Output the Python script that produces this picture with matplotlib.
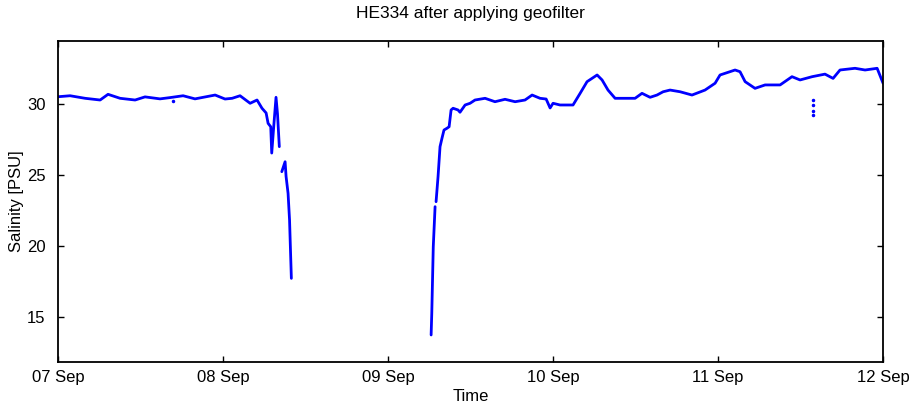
import matplotlib
matplotlib.use("Agg")
import matplotlib.pyplot as plt
import matplotlib.dates as mdates
import numpy as np
import pandas as pd

# Salinity record, time in days since 07 Sep
start_date = "2010-09-07"

# before the gap
days_a = [0.000, 0.073, 0.164, 0.255, 0.303, 0.376, 0.467, 0.527, 0.618, 0.679,
          0.758, 0.830, 0.952, 1.012, 1.055, 1.103, 1.164, 1.206, 1.236, 1.261,
          1.273, 1.289, 1.295, 1.309, 1.321, 1.330, 1.341]
sal_a = [30.51, 30.58, 30.40, 30.28, 30.68, 30.40, 30.28, 30.50, 30.36, 30.45,
         30.58, 30.36, 30.63, 30.35, 30.40, 30.58, 30.05, 30.28, 29.70, 29.37,
         28.64, 28.40, 26.55, 28.70, 30.47, 29.30, 27.00]

days_b = [1.356, 1.376, 1.382, 1.394, 1.403, 1.408, 1.414]
sal_b = [25.24, 25.94, 24.90, 23.72, 21.84, 19.96, 17.74]

# after the gap
days_c = [2.261, 2.265, 2.274, 2.285]
sal_c = [13.76, 15.30, 19.96, 22.78]

days_d = [2.291, 2.303, 2.315, 2.327, 2.339, 2.358, 2.370, 2.382, 2.394, 2.424,
          2.436, 2.467, 2.497, 2.527, 2.588, 2.648, 2.709, 2.770, 2.830, 2.873,
          2.921, 2.958, 2.982, 3.000, 3.042, 3.121, 3.164, 3.206, 3.267, 3.297,
          3.333, 3.376, 3.497, 3.539, 3.588, 3.630, 3.667, 3.709, 3.770, 3.842,
          3.921, 3.982, 4.012, 4.103, 4.133, 4.164, 4.224, 4.285, 4.376, 4.448,
          4.497, 4.570, 4.648, 4.697, 4.739, 4.830, 4.891, 4.964, 5.000]
sal_d = [23.13, 24.90, 27.00, 27.60, 28.17, 28.30, 28.40, 29.58, 29.70, 29.58,
         29.42, 29.93, 30.05, 30.28, 30.40, 30.16, 30.33, 30.16, 30.28, 30.63,
         30.40, 30.35, 29.72, 30.05, 29.93, 29.93, 30.75, 31.57, 32.04, 31.69,
         30.98, 30.40, 30.40, 30.75, 30.47, 30.63, 30.86, 30.98, 30.86, 30.63,
         30.98, 31.46, 32.04, 32.39, 32.27, 31.57, 31.10, 31.34, 31.34, 31.92,
         31.69, 31.92, 32.10, 31.80, 32.39, 32.51, 32.39, 32.51, 31.46]

# isolated samples
days_dots = [0.697, 4.576, 4.576, 4.576, 4.576]
sal_dots = [30.20, 30.28, 29.90, 29.50, 29.22]


def to_time(days):
    return pd.Timestamp(start_date) + pd.to_timedelta(np.array(days), unit="D")


plt.rcParams['font.family'] = ['Liberation Sans', 'DejaVu Sans']

fig = plt.figure(figsize=(9.17, 4.05), dpi=100)
ax = fig.add_axes([0.0633, 0.1062, 0.8997, 0.7933])

for d, s in [(days_a, sal_a), (days_b, sal_b), (days_c, sal_c), (days_d, sal_d)]:
    ax.plot(to_time(d), s, color='#0000ff', lw=2, solid_capstyle='round')
ax.plot(to_time(days_dots), sal_dots, linestyle='none', marker='o', ms=1.5, color='#0000ff')

ax.set_xlim(pd.Timestamp(start_date), pd.Timestamp(start_date) + pd.Timedelta(days=5))
ax.set_ylim(11.86, 34.45)
ax.set_yticks([15, 20, 25, 30])
ax.xaxis.set_major_locator(mdates.DayLocator())
ax.xaxis.set_major_formatter(mdates.DateFormatter('%d %b'))

ax.tick_params(direction='in', length=4.5, width=1, top=True, right=True, labelsize=12)
ax.tick_params(axis='x', pad=5.5)
ax.tick_params(axis='y', pad=9)
for sp in ax.spines.values():
    sp.set_linewidth(1.3)

ax.set_title('HE334 after applying geofilter', fontsize=12.5, pad=16)
ax.set_xlabel('Time', fontsize=12, labelpad=3)
ax.set_ylabel('Salinity [PSU]', fontsize=12, labelpad=2)

fig.savefig('out.png', dpi=100)
